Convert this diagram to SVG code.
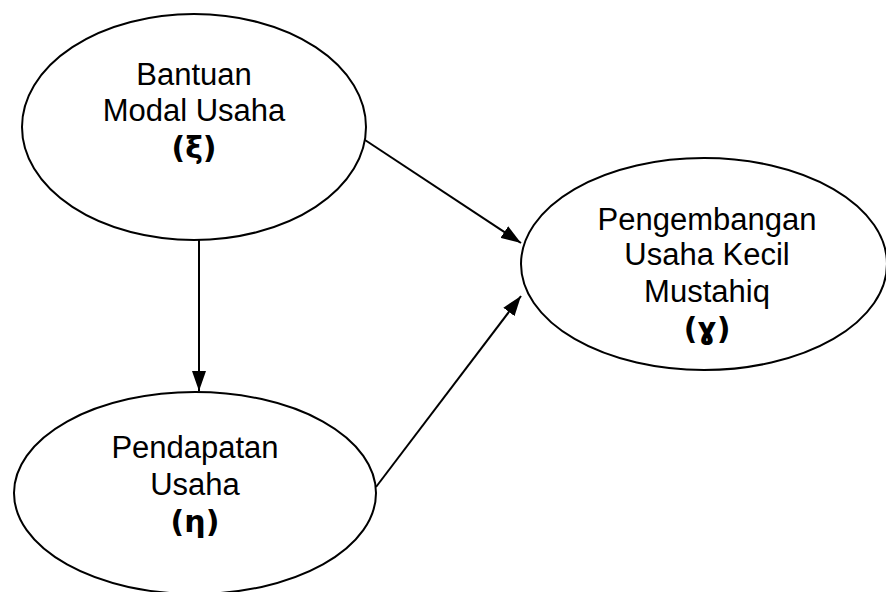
<svg xmlns="http://www.w3.org/2000/svg" width="886" height="592" viewBox="0 0 886 592">
<style>
.node ellipse{fill:#fff;stroke:#000;stroke-width:2}
.node text{font-family:"Liberation Sans",Arial,sans-serif;font-size:31px;fill:#000;text-anchor:middle}
.node text.sym{font-weight:bold;font-family:"DejaVu Sans","Liberation Sans",sans-serif;font-size:30px}
.edge{stroke:#000;stroke-width:2;fill:none;marker-end:url(#ah)}
</style>
<defs>
<marker id="ah" viewBox="0 0 20 14" refX="20" refY="7" markerWidth="20" markerHeight="14" markerUnits="userSpaceOnUse" orient="auto">
<path d="M0,0 L20,7 L0,14 Z" fill="#000"/>
</marker>
</defs>
<rect width="886" height="592" fill="#fff"/>
<g id="connectors">
<line class="edge" x1="365" y1="140" x2="521" y2="243"/>
<line class="edge" x1="199" y1="240" x2="199" y2="391"/>
<line class="edge" x1="376" y1="487" x2="521" y2="296"/>
</g>
<g id="bantuan" class="node">
<ellipse cx="194" cy="127" rx="172" ry="113"/>
<text x="194" y="85">Bantuan</text>
<text x="194" y="121">Modal Usaha</text>
<text class="sym" x="194" y="158">(ξ)</text>
</g>
<g id="pendapatan" class="node">
<ellipse cx="195" cy="493" rx="181" ry="101"/>
<text x="195" y="458">Pendapatan</text>
<text x="195" y="495">Usaha</text>
<text class="sym" x="195" y="532">(η)</text>
</g>
<g id="pengembangan" class="node">
<ellipse cx="704" cy="264" rx="183" ry="106"/>
<text x="707" y="230">Pengembangan</text>
<text x="707" y="265">Usaha Kecil</text>
<text x="707" y="302">Mustahiq</text>
<text class="sym" x="707" y="339">(ɣ)</text>
</g>
</svg>
